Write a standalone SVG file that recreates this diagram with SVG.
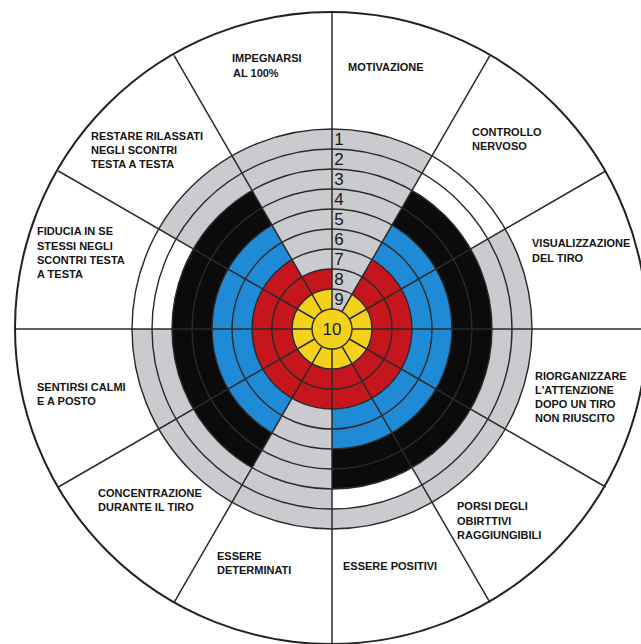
<svg xmlns="http://www.w3.org/2000/svg" width="641" height="644" viewBox="0 0 641 644">
<style>
.lbl{font-family:"Liberation Sans",Arial,sans-serif;font-weight:bold;font-size:11px;fill:#151515}
.num{font-family:"Liberation Sans",Arial,sans-serif;font-size:17px;fill:#1a1a1a;text-anchor:middle}
.grey{fill:#c9cbce}
.ring{fill:none;stroke:#2a2a2a;stroke-width:1.4}
.rad{stroke:#2a2a2a;stroke-width:1.5;fill:none}
</style>
<rect x="0" y="0" width="641" height="644" fill="#ffffff"/>
<circle cx="331" cy="328" r="316" fill="#ffffff" stroke="#222" stroke-width="2"/>
<g id="target">
<circle cx="332" cy="329" r="200" fill="#ffffff"/>
<circle cx="332" cy="329" r="160" fill="#0b0b0b"/>
<circle cx="332" cy="329" r="120" fill="#1f8ad6"/>
<circle cx="332" cy="329" r="80" fill="#c4161c"/>
<circle cx="332" cy="329" r="40" fill="#f4d21c"/>
<g id="grey-wedges">
<path class="grey" d="M232,155.8 A200,200 0 0 1 332,129 L332,269 A60,60 0 0 0 302,277.04 Z"/>
<path class="grey" d="M332,129 A200,200 0 0 1 432,155.8 L342,311.68 A20,20 0 0 0 332,309 Z"/>
<path class="grey" d="M505.2,229 A200,200 0 0 1 432,502.2 L412,467.56 A160,160 0 0 0 470.56,249 Z"/>
<path class="grey" d="M432,502.2 A200,200 0 0 1 332,529 L332,509 A180,180 0 0 0 422,484.88 Z"/>
<path class="grey" d="M332,529 A200,200 0 0 1 232,502.2 L292,398.28 A80,80 0 0 0 332,409 Z"/>
<path class="grey" d="M232,502.2 A200,200 0 0 1 132,329 L172,329 A160,160 0 0 0 252,467.56 Z"/>
<path class="grey" d="M158.8,229 A200,200 0 0 1 232,155.8 L252,190.44 A160,160 0 0 0 193.44,249 Z"/>
</g>
<g id="rings">
<circle class="ring" cx="332" cy="329" r="200"/>
<circle class="ring" cx="332" cy="329" r="180"/>
<circle class="ring" cx="332" cy="329" r="160"/>
<circle class="ring" cx="332" cy="329" r="140"/>
<circle class="ring" cx="332" cy="329" r="120"/>
<circle class="ring" cx="332" cy="329" r="100"/>
<circle class="ring" cx="332" cy="329" r="80"/>
<circle class="ring" cx="332" cy="329" r="60"/>
<circle class="ring" cx="332" cy="329" r="40"/>
<circle class="ring" cx="332" cy="329" r="20" stroke-width="2"/>
</g>
</g>
<g id="connectors">
<line class="rad" x1="332" y1="309" x2="332" y2="12"/>
<line class="rad" x1="342" y1="311.68" x2="490" y2="55.34"/>
<line class="rad" x1="349.32" y1="319" x2="605.66" y2="171"/>
<line class="rad" x1="352" y1="329" x2="641" y2="329"/>
<line class="rad" x1="349.32" y1="339" x2="605.66" y2="487"/>
<line class="rad" x1="342" y1="346.32" x2="490" y2="602.66"/>
<line class="rad" x1="332" y1="349" x2="332" y2="644"/>
<line class="rad" x1="322" y1="346.32" x2="174" y2="602.66"/>
<line class="rad" x1="314.68" y1="339" x2="58.34" y2="487"/>
<line class="rad" x1="312" y1="329" x2="15" y2="329"/>
<line class="rad" x1="314.68" y1="319" x2="58.34" y2="171"/>
<line class="rad" x1="322" y1="311.68" x2="174" y2="55.34"/>
</g>
<g id="numbers">
<text class="num" x="339" y="145">1</text>
<text class="num" x="339" y="165">2</text>
<text class="num" x="339" y="185">3</text>
<text class="num" x="339" y="205">4</text>
<text class="num" x="339" y="225">5</text>
<text class="num" x="339" y="245">6</text>
<text class="num" x="339" y="265">7</text>
<text class="num" x="339" y="285">8</text>
<text class="num" x="339" y="305">9</text>
<text class="num" x="332" y="335">10</text>
</g>
<g id="impegnarsi"><text class="lbl" x="232" y="62">IMPEGNARSI</text><text class="lbl" x="233" y="77">AL 100%</text></g>
<g id="motivazione"><text class="lbl" x="348" y="71">MOTIVAZIONE</text></g>
<g id="controllo"><text class="lbl" x="472" y="136">CONTROLLO</text><text class="lbl" x="472" y="150">NERVOSO</text></g>
<g id="visualizzazione"><text class="lbl" x="532" y="247">VISUALIZZAZIONE</text><text class="lbl" x="532" y="262">DEL TIRO</text></g>
<g id="riorganizzare"><text class="lbl" x="535" y="380">RIORGANIZZARE</text><text class="lbl" x="535" y="394">L'ATTENZIONE</text><text class="lbl" x="535" y="408">DOPO UN TIRO</text><text class="lbl" x="535" y="422">NON RIUSCITO</text></g>
<g id="porsi"><text class="lbl" x="457" y="510">PORSI DEGLI</text><text class="lbl" x="457" y="525">OBIRTTIVI</text><text class="lbl" x="457" y="539">RAGGIUNGIBILI</text></g>
<g id="positivi"><text class="lbl" x="343" y="570">ESSERE POSITIVI</text></g>
<g id="determinati"><text class="lbl" x="217" y="560">ESSERE</text><text class="lbl" x="217" y="574">DETERMINATI</text></g>
<g id="concentrazione"><text class="lbl" x="98" y="497">CONCENTRAZIONE</text><text class="lbl" x="98" y="511">DURANTE IL TIRO</text></g>
<g id="sentirsi"><text class="lbl" x="37" y="391">SENTIRSI CALMI</text><text class="lbl" x="37" y="405">E A POSTO</text></g>
<g id="fiducia"><text class="lbl" x="37" y="235">FIDUCIA IN SE</text><text class="lbl" x="37" y="250">STESSI NEGLI</text><text class="lbl" x="37" y="264">SCONTRI TESTA</text><text class="lbl" x="37" y="278">A TESTA</text></g>
<g id="restare"><text class="lbl" x="91" y="140">RESTARE RILASSATI</text><text class="lbl" x="91" y="154">NEGLI SCONTRI</text><text class="lbl" x="91" y="168">TESTA A TESTA</text></g>
</svg>
